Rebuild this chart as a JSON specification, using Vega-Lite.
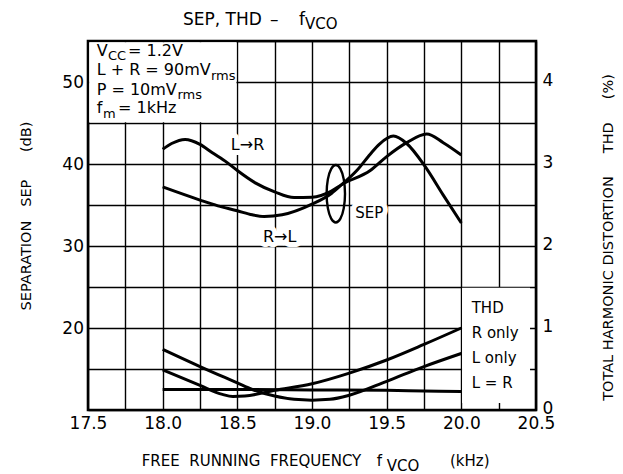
{
  "$schema": "https://vega.github.io/schema/vega-lite/v6.json",
  "width": 448,
  "height": 369,
  "autosize": {"type": "none"},
  "padding": {"left": 88, "top": 41, "right": 87, "bottom": 64},
  "background": "white",
  "config": {
    "font": "DejaVu Sans",
    "view": {"stroke": "black", "strokeWidth": 2.6},
    "axis": {
      "gridColor": "black", "gridOpacity": 1, "gridWidth": 1.4,
      "labelColor": "black", "titleColor": "black",
      "labelFont": "DejaVu Sans", "titleFont": "DejaVu Sans",
      "labelFontSize": 17, "titleFontSize": 14.5, "titleFontWeight": "normal",
      "ticks": false, "tickSize": 0, "domain": false,
      "labelOverlap": false, "labelFlush": false, "labelBound": false
    }
  },
  "datasets": {
    "sep": [
      {"curve": "L→R", "f": 18.00, "db": 41.8},
      {"curve": "L→R", "f": 18.06, "db": 42.5},
      {"curve": "L→R", "f": 18.15, "db": 43.0},
      {"curve": "L→R", "f": 18.25, "db": 42.4},
      {"curve": "L→R", "f": 18.33, "db": 41.4},
      {"curve": "L→R", "f": 18.43, "db": 40.2},
      {"curve": "L→R", "f": 18.50, "db": 39.2},
      {"curve": "L→R", "f": 18.62, "db": 37.7},
      {"curve": "L→R", "f": 18.75, "db": 36.6},
      {"curve": "L→R", "f": 18.88, "db": 35.9},
      {"curve": "L→R", "f": 19.00, "db": 35.95},
      {"curve": "L→R", "f": 19.13, "db": 36.7},
      {"curve": "L→R", "f": 19.20, "db": 37.5},
      {"curve": "L→R", "f": 19.39, "db": 39.2},
      {"curve": "L→R", "f": 19.50, "db": 40.9},
      {"curve": "L→R", "f": 19.634, "db": 42.6},
      {"curve": "L→R", "f": 19.768, "db": 43.66},
      {"curve": "L→R", "f": 19.879, "db": 42.6},
      {"curve": "L→R", "f": 20.00, "db": 41.1},
      {"curve": "R→L", "f": 18.00, "db": 37.2},
      {"curve": "R→L", "f": 18.25, "db": 35.6},
      {"curve": "R→L", "f": 18.37, "db": 34.9},
      {"curve": "R→L", "f": 18.50, "db": 34.3},
      {"curve": "R→L", "f": 18.60, "db": 33.8},
      {"curve": "R→L", "f": 18.68, "db": 33.6},
      {"curve": "R→L", "f": 18.80, "db": 33.8},
      {"curve": "R→L", "f": 19.00, "db": 35.1},
      {"curve": "R→L", "f": 19.13, "db": 36.4},
      {"curve": "R→L", "f": 19.20, "db": 37.5},
      {"curve": "R→L", "f": 19.30, "db": 39.2},
      {"curve": "R→L", "f": 19.39, "db": 41.2},
      {"curve": "R→L", "f": 19.45, "db": 42.4},
      {"curve": "R→L", "f": 19.545, "db": 43.4},
      {"curve": "R→L", "f": 19.634, "db": 42.5},
      {"curve": "R→L", "f": 19.757, "db": 39.7},
      {"curve": "R→L", "f": 19.879, "db": 36.2},
      {"curve": "R→L", "f": 20.00, "db": 32.8}
    ],
    "thd": [
      {"curve": "L only", "f": 18.00, "thd": 0.74},
      {"curve": "L only", "f": 18.25, "thd": 0.53},
      {"curve": "L only", "f": 18.50, "thd": 0.33},
      {"curve": "L only", "f": 18.60, "thd": 0.25},
      {"curve": "L only", "f": 18.75, "thd": 0.17},
      {"curve": "L only", "f": 18.88, "thd": 0.13},
      {"curve": "L only", "f": 19.00, "thd": 0.12},
      {"curve": "L only", "f": 19.12, "thd": 0.13},
      {"curve": "L only", "f": 19.25, "thd": 0.18},
      {"curve": "L only", "f": 19.50, "thd": 0.35},
      {"curve": "L only", "f": 19.75, "thd": 0.53},
      {"curve": "L only", "f": 20.00, "thd": 0.69},
      {"curve": "R only", "f": 18.00, "thd": 0.49},
      {"curve": "R only", "f": 18.25, "thd": 0.30},
      {"curve": "R only", "f": 18.40, "thd": 0.19},
      {"curve": "R only", "f": 18.47, "thd": 0.165},
      {"curve": "R only", "f": 18.55, "thd": 0.17},
      {"curve": "R only", "f": 18.75, "thd": 0.24},
      {"curve": "R only", "f": 19.00, "thd": 0.32},
      {"curve": "R only", "f": 19.25, "thd": 0.45},
      {"curve": "R only", "f": 19.50, "thd": 0.61},
      {"curve": "R only", "f": 19.75, "thd": 0.80},
      {"curve": "R only", "f": 20.00, "thd": 1.0},
      {"curve": "L = R", "f": 18.00, "thd": 0.25},
      {"curve": "L = R", "f": 18.50, "thd": 0.25},
      {"curve": "L = R", "f": 19.00, "thd": 0.245},
      {"curve": "L = R", "f": 19.50, "thd": 0.24},
      {"curve": "L = R", "f": 19.75, "thd": 0.232},
      {"curve": "L = R", "f": 20.00, "thd": 0.225}
    ],
    "loop": [
      {"i": 0, "f": 19.2210, "db": 36.37},
      {"i": 1, "f": 19.2128, "db": 38.125},
      {"i": 2, "f": 19.1902, "db": 39.41},
      {"i": 3, "f": 19.1594, "db": 39.88},
      {"i": 4, "f": 19.1286, "db": 39.41},
      {"i": 5, "f": 19.1061, "db": 38.125},
      {"i": 6, "f": 19.0978, "db": 36.37},
      {"i": 7, "f": 19.1061, "db": 34.615},
      {"i": 8, "f": 19.1286, "db": 33.33},
      {"i": 9, "f": 19.1594, "db": 32.86},
      {"i": 10, "f": 19.1902, "db": 33.33},
      {"i": 11, "f": 19.2128, "db": 34.615}
    ],
    "boxes": [
      {"f": 17.508, "f2": 18.494, "db": 45.08, "db2": 54.85},
      {"f": 20.005, "f2": 20.46, "db": 10.85, "db2": 24.92}
    ],
    "notes": [
      {"f": 18.1362, "db": 56.951, "text": "SEP, THD", "style": "title17"},
      {"f": 18.7188, "db": 56.951, "text": "–", "style": "title17"},
      {"f": 18.913, "db": 56.951, "text": "f", "style": "title17"},
      {"f": 18.9532, "db": 56.524, "text": "VCO", "style": "text15"},
      {"f": 17.8596, "db": 3.110, "text": "FREE\u00a0\u00a0RUNNING\u00a0\u00a0FREQUENCY", "style": "text15"},
      {"f": 19.4333, "db": 3.110, "text": "f", "style": "text15"},
      {"f": 19.5002, "db": 2.60, "text": "VCO", "style": "text15"},
      {"f": 19.9241, "db": 3.110, "text": "(kHz)", "style": "text15"},
      {"f": 17.558, "db": 53.13, "text": "V", "style": "text16"},
      {"f": 17.634, "db": 52.72, "text": "CC", "style": "sub13"},
      {"f": 17.768, "db": 53.13, "text": "= 1.2V", "style": "text16"},
      {"f": 17.558, "db": 50.89, "text": "L + R = 90mV", "style": "text16"},
      {"f": 18.3237, "db": 50.28, "text": "rms", "style": "sub13"},
      {"f": 17.558, "db": 48.45, "text": "P = 10mV", "style": "text16"},
      {"f": 18.0993, "db": 47.87, "text": "rms", "style": "sub13"},
      {"f": 17.558, "db": 46.22, "text": "f", "style": "text16"},
      {"f": 17.6004, "db": 45.55, "text": "m", "style": "sub13"},
      {"f": 17.7009, "db": 46.22, "text": "= 1kHz", "style": "text16"},
      {"f": 18.4563, "db": 41.707, "text": "L→R", "style": "plot16"},
      {"f": 18.6719, "db": 30.524, "text": "R→L", "style": "plot16"},
      {"f": 19.2893, "db": 33.378, "text": "SEP", "style": "plot15"},
      {"f": 20.0695, "db": 21.79, "text": "THD", "style": "plot15"},
      {"f": 20.0695, "db": 18.74, "text": "R only", "style": "plot15"},
      {"f": 20.0695, "db": 15.70, "text": "L only", "style": "plot15"},
      {"f": 20.0695, "db": 12.65, "text": "L = R", "style": "plot15"}
    ]
  },
  "encoding": {
    "x": {
      "field": "f", "type": "quantitative",
      "scale": {"domain": [17.5, 20.5], "nice": false, "zero": false},
      "axis": {
        "values": [17.5, 17.75, 18, 18.25, 18.5, 18.75, 19, 19.25, 19.5, 19.75, 20, 20.25, 20.5],
        "grid": true,
        "labelExpr": "datum.value % 0.5 == 0 ? format(datum.value, '.1f') : ''",
        "labelPadding": 5,
        "title": null
      }
    }
  },
  "layer": [
    {
      "encoding": {
        "y": {
          "field": "db", "type": "quantitative",
          "scale": {"domain": [10, 55], "nice": false, "zero": false},
          "axis": {
            "values": [20, 30, 40, 50],
            "grid": false,
            "labelPadding": 4.5,
            "title": "SEPARATION\u00a0\u00a0\u00a0SEP\u00a0\u00a0\u00a0\u00a0\u00a0\u00a0(dB)",
            "titleAngle": 270,
            "titleBaseline": "alphabetic",
            "titleAlign": "center",
            "titleX": -58,
            "titleY": 174.5
          }
        }
      },
      "layer": [
        {
          "data": {"name": "boxes"},
          "mark": {"type": "rect", "fill": "white", "strokeWidth": 0},
          "encoding": {
            "x2": {"field": "f2"},
            "y2": {"field": "db2"}
          }
        },
        {
          "data": {"name": "sep"},
          "mark": {"type": "line", "interpolate": "monotone", "strokeWidth": 3, "color": "black"},
          "encoding": {
            "detail": {"field": "curve"}
          }
        },
        {
          "data": {"name": "loop"},
          "mark": {"type": "line", "interpolate": "cardinal-closed", "strokeWidth": 2.4, "color": "black"},
          "encoding": {
            "order": {"field": "i"}
          }
        },
        {
          "data": {"name": "notes"},
          "transform": [{"filter": {"field": "style", "oneOf": ["plot16"]}}],
          "mark": {"type": "text", "align": "left", "baseline": "alphabetic", "fontSize": 16, "fill": "white", "stroke": "white", "strokeWidth": 10, "strokeJoin": "round"},
          "encoding": {"text": {"field": "text"}}
        },
        {
          "data": {"name": "notes"},
          "transform": [{"filter": {"field": "style", "oneOf": ["plot15"]}}],
          "mark": {"type": "text", "align": "left", "baseline": "alphabetic", "fontSize": 15, "fill": "white", "stroke": "white", "strokeWidth": 10, "strokeJoin": "round"},
          "encoding": {"text": {"field": "text"}}
        },
        {
          "data": {"name": "notes"},
          "transform": [{"filter": {"field": "style", "oneOf": ["title17"]}}],
          "mark": {"type": "text", "align": "left", "baseline": "alphabetic", "fontSize": 17, "color": "black"},
          "encoding": {"text": {"field": "text"}}
        },
        {
          "data": {"name": "notes"},
          "transform": [{"filter": {"field": "style", "oneOf": ["text16", "plot16"]}}],
          "mark": {"type": "text", "align": "left", "baseline": "alphabetic", "fontSize": 16, "color": "black"},
          "encoding": {"text": {"field": "text"}}
        },
        {
          "data": {"name": "notes"},
          "transform": [{"filter": {"field": "style", "oneOf": ["text15", "plot15"]}}],
          "mark": {"type": "text", "align": "left", "baseline": "alphabetic", "fontSize": 15, "color": "black"},
          "encoding": {"text": {"field": "text"}}
        },
        {
          "data": {"name": "notes"},
          "transform": [{"filter": {"field": "style", "oneOf": ["sub13"]}}],
          "mark": {"type": "text", "align": "left", "baseline": "alphabetic", "fontSize": 13, "color": "black"},
          "encoding": {"text": {"field": "text"}}
        }
      ]
    },
    {
      "data": {"name": "thd"},
      "mark": {"type": "line", "interpolate": "monotone", "strokeWidth": 3, "color": "black"},
      "encoding": {
        "y": {
          "field": "thd", "type": "quantitative",
          "scale": {"domain": [0, 4.5], "nice": false, "zero": false},
          "axis": {
            "orient": "right",
            "values": [0, 0.5, 1, 1.5, 2, 2.5, 3, 3.5, 4, 4.5],
            "grid": true,
            "labelExpr": "datum.value % 1 == 0 ? format(datum.value, 'd') : ''",
            "labelPadding": 6,
            "labelOffset": -1.5,
            "title": "TOTAL\u00a0HARMONIC\u00a0DISTORTION\u00a0\u00a0\u00a0\u00a0\u00a0THD\u00a0\u00a0\u00a0\u00a0\u00a0(%)",
            "titleAngle": 270,
            "titleBaseline": "alphabetic",
            "titleAlign": "center",
            "titleX": 76,
            "titleY": 196
          }
        },
        "detail": {"field": "curve"}
      }
    }
  ],
  "resolve": {"scale": {"y": "independent"}}
}
